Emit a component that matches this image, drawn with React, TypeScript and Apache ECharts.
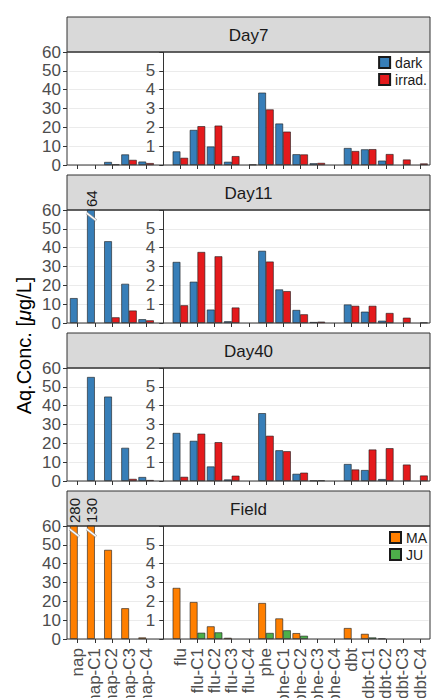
import React, { useEffect, useRef } from "react";
import * as echarts from "echarts";

// ---------- data ----------
const napCategories = ["nap", "nap-C1", "nap-C2", "nap-C3", "nap-C4"];
const otherCategories = [
  "flu", "flu-C1", "flu-C2", "flu-C3", "flu-C4",
  "phe", "phe-C1", "phe-C2", "phe-C3", "phe-C4",
  "dbt", "dbt-C1", "dbt-C2", "dbt-C3", "dbt-C4",
];
const panelTitles = ["Day7", "Day11", "Day40", "Field"];
const napTicks = [0, 10, 20, 30, 40, 50, 60];
const otherTicks = [1, 2, 3, 4, 5];
const napMax = 60;
const otherMax = 6;

// Day7
const day7DarkNap = [null, null, 1.6, 5.6, 1.8];
const day7IrradNap = [null, null, 0.3, 2.7, 1.0];
const day7DarkOther = [0.72, 1.86, 0.98, 0.17, null, 3.84, 2.2, 0.57, 0.09, null, 0.9, 0.83, 0.23, null, null];
const day7IrradOther = [0.38, 2.06, 2.09, 0.47, 0.02, 2.95, 1.77, 0.56, 0.11, null, 0.74, 0.84, 0.58, 0.29, 0.08];
// Day11
const day11DarkNap = [13.2, 64, 43.4, 20.8, 2.0];
const day11IrradNap = [null, null, 3.0, 6.6, 1.4];
const day11DarkOther = [3.24, 2.19, 0.71, 0.09, null, 3.83, 1.78, 0.69, 0.05, null, 0.98, 0.6, 0.12, null, null];
const day11IrradOther = [0.94, 3.77, 3.54, 0.82, null, 3.26, 1.69, 0.46, 0.07, null, 0.91, 0.91, 0.53, 0.28, 0.02];
// Day40
const day40DarkNap = [null, 55.2, 44.8, 17.6, 2.1];
const day40IrradNap = [null, null, null, 1.1, 0.5];
const day40DarkOther = [2.55, 2.13, 0.77, 0.08, null, 3.6, 1.63, 0.38, 0.02, null, 0.9, 0.58, 0.1, null, null];
const day40IrradOther = [0.22, 2.51, 2.06, 0.28, null, 2.4, 1.58, 0.44, 0.03, null, 0.61, 1.67, 1.74, 0.87, 0.29];
// Field
const fieldMANap = [280, 130, 47.3, 16.3, 0.8];
const fieldJUNap = [null, null, null, null, null];
const fieldMAOther = [2.71, 1.96, 0.67, 0.06, null, 1.91, 1.09, 0.31, null, null, 0.58, 0.27, 0.02, null, null];
const fieldJUOther = [null, 0.33, 0.35, null, null, 0.32, 0.46, 0.17, null, null, null, 0.08, null, null, null];

const seriesNamesLab = ["dark", "irrad."];
const seriesNamesField = ["MA", "JU"];
const colorsLab = ["#377eb8", "#e41a1c"];
const colorsField = ["#ff7f00", "#4daf4a"];

const panels = [
  { title: panelTitles[0], names: seriesNamesLab, colors: colorsLab, nap: [day7DarkNap, day7IrradNap], other: [day7DarkOther, day7IrradOther] },
  { title: panelTitles[1], names: seriesNamesLab, colors: colorsLab, nap: [day11DarkNap, day11IrradNap], other: [day11DarkOther, day11IrradOther] },
  { title: panelTitles[2], names: seriesNamesLab, colors: colorsLab, nap: [day40DarkNap, day40IrradNap], other: [day40DarkOther, day40IrradOther] },
  { title: panelTitles[3], names: seriesNamesField, colors: colorsField, nap: [fieldMANap, fieldJUNap], other: [fieldMAOther, fieldJUOther] },
];

// ---------- layout ----------
const FONT = "'Liberation Sans', Arial, Helvetica, sans-serif";
const frameLeft = 67;
const frameRight = 430;
const gridLeft = 69.1;
const gridWidth = 359.5;
const panelTop0 = 17;
const panelPitch = 158;
const stripH = 35;
const plotH = 113;
const barFrac = 0.45;

export default function App() {
  const ref = useRef<HTMLDivElement>(null);

  useEffect(() => {
    if (!ref.current) return;
    const chart = echarts.init(ref.current, undefined, { renderer: "svg" });

    const categories = [...napCategories, "", ...otherCategories];
    const gapIndex = napCategories.length;
    const nCat = categories.length;
    const band = gridWidth / nCat;
    const dividerOffset = -(gapIndex + 0.5) * band;

    const grid: any[] = [];
    const xAxis: any[] = [];
    const yAxis: any[] = [];
    const series: any[] = [];
    const graphic: any[] = [];

    panels.forEach((p, i) => {
      const top = panelTop0 + i * panelPitch;
      const plotTop = top + stripH;
      const isLast = i === panels.length - 1;
      grid.push({
        left: gridLeft, top: plotTop, width: gridWidth, height: plotH,
        show: false, containLabel: false, outerBoundsMode: "none",
      });
      xAxis.push({
        type: "category", gridIndex: i, data: categories, position: "bottom",
        axisLine: { show: false },
        axisTick: {
          show: true, alignWithLabel: true, length: 4,
          interval: (idx: number) => idx !== gapIndex,
          lineStyle: { color: "#333333", width: 1 },
        },
        axisLabel: {
          show: isLast, interval: 0, rotate: 90, fontSize: 17, color: "#4d4d4d",
          margin: 9, fontFamily: FONT,
        },
        splitLine: { show: false },
      });
      xAxis.push({
        type: "category", gridIndex: i, data: categories, position: "bottom", show: false,
      });
      yAxis.push({
        type: "value", gridIndex: i, position: "left", offset: gridLeft - frameLeft,
        min: napTicks[0], max: napMax, interval: napTicks[1] - napTicks[0],
        axisLine: { show: false },
        axisTick: { show: true, length: 4, lineStyle: { color: "#333333", width: 1 } },
        axisLabel: { fontSize: 17, color: "#4d4d4d", margin: 6, fontFamily: FONT },
        splitLine: { show: true, lineStyle: { color: "#ebebeb", width: 1 } },
      });
      yAxis.push({
        type: "value", gridIndex: i, position: "left", offset: dividerOffset,
        min: 0, max: otherMax, interval: otherTicks[1] - otherTicks[0],
        axisLine: { show: true, lineStyle: { color: "#333333", width: 1 } },
        axisTick: { show: true, length: 4, lineStyle: { color: "#333333", width: 1 } },
        axisLabel: {
          fontSize: 17, color: "#4d4d4d", margin: 8, fontFamily: FONT,
          formatter: (v: number) => (otherTicks.indexOf(v) >= 0 ? String(v) : ""),
        },
        splitLine: { show: false },
      });

      const breaks: any[] = [];
      [0, 1].forEach((s) => {
        const napData = [...p.nap[s], ...new Array(nCat - napCategories.length).fill(null)];
        const otherData = [...new Array(gapIndex + 1).fill(null), ...p.other[s]];
        const common = {
          type: "bar", name: p.names[s], barWidth: barFrac * 100 + "%", barGap: "0%",
          clip: true,
          itemStyle: { color: p.colors[s], borderColor: "#1a1a1a", borderWidth: 0.6 },
          emphasis: { disabled: true },
        };
        series.push({ ...common, xAxisIndex: 2 * i, yAxisIndex: 2 * i, data: napData });
        series.push({ ...common, xAxisIndex: 2 * i + 1, yAxisIndex: 2 * i + 1, data: otherData });
        p.nap[s].forEach((v: any, k: number) => {
          if (v != null && v > napMax) breaks.push([k, v, s]);
        });
      });
      if (breaks.length) {
        series.push({
          type: "custom", xAxisIndex: 2 * i, yAxisIndex: 2 * i, clip: false, z: 5,
          data: breaks, silent: true,
          encode: { x: 0, y: 1 },
          renderItem: (params: any, api: any) => {
            const idx = api.value(0);
            const val = api.value(1);
            const s = api.value(2);
            const pt = api.coord([idx, napMax]);
            const bw = api.size([1, 0])[0] * barFrac;
            const cx = pt[0] + (s === 0 ? -bw / 2 : bw / 2);
            const y0 = pt[1];
            const shape = { x1: cx - bw / 2 - 0.5, y1: y0 + 3, x2: cx + bw / 2 + 1.5, y2: y0 + 10.5 };
            return {
              type: "group",
              children: [
                { type: "line", shape, style: { stroke: "#a0a0a0", lineWidth: 2.6 } },
                { type: "line", shape, style: { stroke: "#ffffff", lineWidth: 1.4 } },
                {
                  type: "text", x: cx + 1, y: y0 - 3, rotation: Math.PI / 2,
                  style: {
                    text: String(val), x: 0, y: 0, textAlign: "left", textVerticalAlign: "middle",
                    fontSize: 15, fontWeight: "normal", fill: "#1a1a1a", fontFamily: FONT,
                  },
                },
              ],
            };
          },
        });
      }

      graphic.push({
        type: "rect", z: 1,
        shape: { x: frameLeft, y: top, width: frameRight - frameLeft, height: stripH },
        style: { fill: "#d9d9d9", stroke: "#333333", lineWidth: 1 },
      });
      graphic.push({
        type: "text", z: 2, x: (frameLeft + frameRight) / 2, y: top + stripH / 2 + 0.5,
        style: {
          text: p.title, fontSize: 17, fontWeight: "normal", fill: "#1a1a1a", fontFamily: FONT,
          textAlign: "center", textVerticalAlign: "middle",
        },
      });
      graphic.push({
        type: "rect", z: 100,
        shape: { x: frameLeft, y: plotTop, width: frameRight - frameLeft, height: plotH },
        style: { fill: "none", stroke: "#333333", lineWidth: 1 },
      });
    });

    const firstTop = panelTop0 + stripH;
    const lastBottom = panelTop0 + (panels.length - 1) * panelPitch + stripH + plotH;
    graphic.push({
      type: "text", x: 24, y: (firstTop + lastBottom) / 2, rotation: Math.PI / 2,
      style: {
        text: "{a|Aq.Conc. [}{b|μ}{a|g/L]}",
        textAlign: "center", textVerticalAlign: "middle",
        rich: {
          a: { fontSize: 20, fontWeight: "normal", fill: "#000000", fontFamily: FONT },
          b: { fontSize: 20, fontWeight: "normal", fill: "#000000", fontFamily: FONT, fontStyle: "italic" },
        },
      },
    });

    const legendCommon = {
      orient: "vertical", right: 5, padding: 0, itemWidth: 11, itemHeight: 11, itemGap: 3,
      icon: "rect", selectedMode: false,
      textStyle: { fontSize: 14, color: "#1a1a1a", lineHeight: 14, fontFamily: FONT },
    };

    chart.setOption({
      animation: false,
      backgroundColor: "#ffffff",
      textStyle: { fontFamily: FONT },
      grid, xAxis, yAxis, series, graphic,
      legend: [
        { ...legendCommon, data: seriesNamesLab, top: panelTop0 + stripH + 3.5 },
        { ...legendCommon, data: seriesNamesField, top: panelTop0 + 3 * panelPitch + stripH + 4.5 },
      ],
    });

    return () => chart.dispose();
  }, []);

  return (
    <div
      ref={ref}
      style={{ position: "fixed", left: 0, top: 0, width: 432, height: 698, background: "#fff" }}
    />
  );
}
